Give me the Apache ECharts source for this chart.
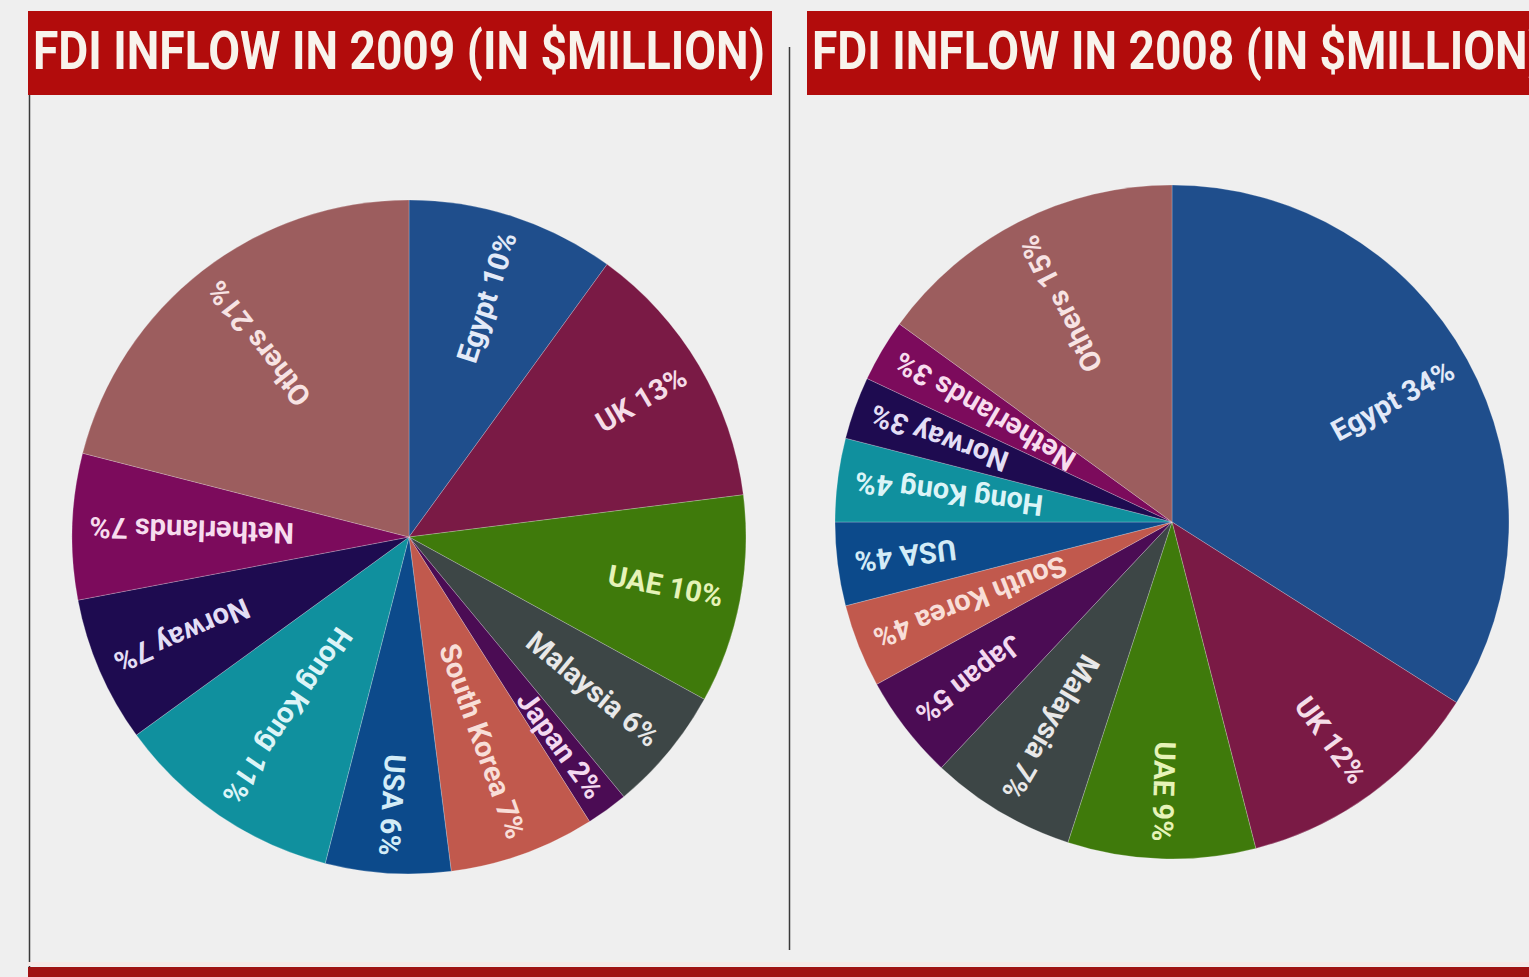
<!DOCTYPE html>
<html>
<head>
<meta charset="utf-8">
<script src="https://cdn.jsdelivr.net/npm/echarts@6/dist/echarts.min.js"></script>
<style>
html,body{margin:0;padding:0;background:#efefef;}
#c{width:1529px;height:977px;}
</style>
</head>
<body>
<div id="c"></div>
<script>
// ---- data ----
const countries = ['Egypt','UK','UAE','Malaysia','Japan','South Korea','USA','Hong Kong','Norway','Netherlands','Others'];
const share2009 = [10,13,10,6,2,7,6,11,7,7,21];
const share2008 = [34,12,9,7,5,4,4,4,3,3,15];
const titles = ['FDI INFLOW IN 2009 (IN $MILLION)', 'FDI INFLOW IN 2008 (IN $MILLION)'];

// ---- styles ----
const sliceColors = ['#1f4e8c','#7a1a45','#3f7a0b','#3d4646','#4b0c54','#c1594d','#0c4a8b','#10909e','#1e0b50','#7c0b5c','#9c5d5e'];
const labelColors = ['#e3eaf8','#f5dde8','#e6f3b8','#e8e8e8','#f3d9f0','#f8ded8','#d3ecf7','#dcf4f7','#e3def5','#f7dcee','#f7e3e3'];
const FONT = "Roboto,'Liberation Sans',sans-serif";
const TITLE_FONT = "bold 54px Roboto,'Liberation Sans',sans-serif";
const TITLE_WIDTH = 732;

function titleScale(text){
  const ctx = document.createElement('canvas').getContext('2d');
  ctx.font = TITLE_FONT;
  return TITLE_WIDTH / ctx.measureText(text).width;
}

function buildData(values){
  const total = values.reduce((a,b)=>a+b,0);
  let cum = 0;
  return countries.map((name,i)=>{
    const mid = 90 - 360*(cum + values[i]/2)/total;
    cum += values[i];
    return {
      name: name,
      value: values[i],
      itemStyle: {color: sliceColors[i]},
      label: {
        rotate: mid,
        rich: {t: {width: 296, align: 'right', color: labelColors[i], fontFamily: FONT, fontWeight: 'bold', fontSize: 29}}
      }
    };
  });
}

function pieSeries(values, center){
  return {
    type: 'pie',
    center: center,
    radius: [0, 337],
    startAngle: 90,
    clockwise: true,
    avoidLabelOverlap: false,
    animation: false,
    silent: true,
    emphasis: {disabled: true},
    labelLayout: {hideOverlap: false},
    itemStyle: {borderColor: 'rgba(255,255,255,0.22)', borderWidth: 1},
    label: {
      show: true,
      position: 'inside',
      fontFamily: FONT,
      fontWeight: 'bold',
      fontSize: 29,
      formatter: p => '{t|' + p.name + ' ' + p.value + '%}'
    },
    labelLine: {show: false},
    data: buildData(values)
  };
}

const s0 = titleScale(titles[0]);
const chart = echarts.init(document.getElementById('c'), null, {renderer: 'svg'});
chart.setOption({
  backgroundColor: '#efefef',
  animation: false,
  graphic: [
    {type:'rect', shape:{x:28,y:11,width:744,height:84}, style:{fill:'#b20c0c'}},
    {type:'rect', shape:{x:807,y:11,width:730,height:84}, style:{fill:'#b20c0c'}},
    {type:'text', x:33, y:50, scaleX:s0, style:{text: titles[0], fill:'#f8f3ec', font:TITLE_FONT, verticalAlign:'middle'}},
    {type:'text', x:812, y:50, scaleX:s0, style:{text: titles[1], fill:'#f8f3ec', font:TITLE_FONT, verticalAlign:'middle'}},
    {type:'line', shape:{x1:29.5,y1:95,x2:29.5,y2:967}, style:{stroke:'#3a3a3a', lineWidth:1.5}},
    {type:'line', shape:{x1:789.5,y1:47,x2:789.5,y2:950}, style:{stroke:'#3a3a3a', lineWidth:1.5}},
    {type:'rect', shape:{x:28,y:962,width:1501,height:4}, style:{fill:'#f7e8e6'}},
    {type:'rect', shape:{x:28,y:967,width:1501,height:10}, style:{fill:'#a01212'}}
  ],
  series: [
    pieSeries(share2009, [409, 537]),
    pieSeries(share2008, [1172, 522])
  ]
});
</script>
</body>
</html>
